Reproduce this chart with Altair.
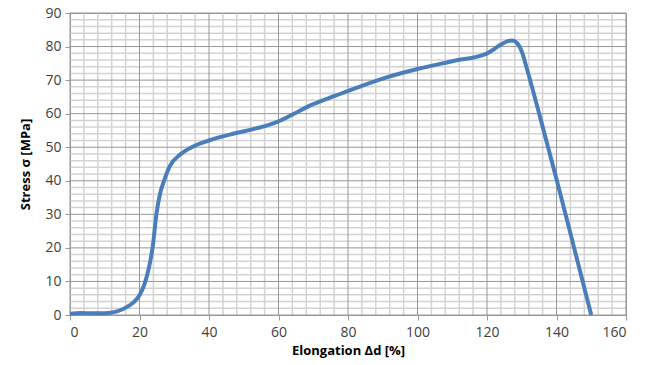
import altair as alt
import pandas as pd

elong = [0, 3, 6, 9, 11.5, 13.5, 15.3, 17, 18.5, 19.7, 20.8, 21.8, 22.8, 23.8, 24.9, 26, 27.1, 28.8,
         31.7, 35, 40, 46.9, 52.7, 57, 60, 64.3, 69, 74.8, 80.1, 91.1, 100, 110.3, 119.9,
         122, 124, 126, 127.3, 128.5, 130, 131.4, 135.3, 140.1, 145, 150]
stress = [0.3, 0.6, 0.5, 0.5, 0.7, 1.1, 1.8, 2.8, 4.0, 5.4, 7.5, 10.4, 14.5, 20.3, 30.3, 36.5, 40.1, 44.5,
          47.8, 50, 52, 54, 55.4, 56.6, 57.7, 59.9, 62.4, 64.8, 66.8, 70.8, 73.3, 75.7, 77.9,
          79.2, 80.6, 81.6, 81.8, 81.2, 78.5, 73.7, 58.9, 40.1, 20.3, 0]

x_minor = [v for v in range(0, 161, 4) if v % 20 != 0]
x_major = list(range(0, 161, 20))
y_minor = [v for v in range(0, 91, 2) if v % 10 != 0]
y_major = list(range(0, 91, 10))

df = pd.DataFrame({"x": elong, "y": stress})
xs = alt.Scale(domain=[0, 160], nice=False)
ys = alt.Scale(domain=[0, 90], nice=False)

font = "Open Sans"
x_title = "Elongation Δd [%]"
y_title = "Stress σ [MPa]"

x_axis = alt.Axis(values=x_major, grid=False, domainColor="#9a9a9a", tickColor="#9a9a9a",
                  tickSize=5, labelFontSize=14, labelColor="#404040", labelFont=font,
                  labelPadding=5, titleFont=font, titleFontSize=13, titleFontWeight="bold",
                  titleColor="#000000", titlePadding=5)
y_axis = alt.Axis(values=y_major, grid=False, domainColor="#9a9a9a", tickColor="#9a9a9a",
                  tickSize=5, labelFontSize=14, labelColor="#404040", labelFont=font,
                  labelPadding=4, titleFont=font, titleFontSize=13, titleFontWeight="bold",
                  titleColor="#000000", titlePadding=12)

xgrid_minor = alt.Chart(pd.DataFrame({"v": x_minor})).mark_rule(color="#d3d3d3", strokeWidth=1.5).encode(
    x=alt.X("v:Q", scale=xs, axis=x_axis, title=x_title))
ygrid_minor = alt.Chart(pd.DataFrame({"v": y_minor})).mark_rule(color="#d3d3d3", strokeWidth=1.5).encode(
    y=alt.Y("v:Q", scale=ys, axis=y_axis, title=y_title))
xgrid_major = alt.Chart(pd.DataFrame({"v": x_major})).mark_rule(color="#969696", strokeWidth=1).encode(
    x=alt.X("v:Q", scale=xs, axis=x_axis, title=x_title))
ygrid_major = alt.Chart(pd.DataFrame({"v": y_major})).mark_rule(color="#969696", strokeWidth=1).encode(
    y=alt.Y("v:Q", scale=ys, axis=y_axis, title=y_title))

line = alt.Chart(df).mark_line(color="#4a7ebb", strokeWidth=4, interpolate="monotone").encode(
    x=alt.X("x:Q", scale=xs, title=x_title, axis=x_axis),
    y=alt.Y("y:Q", scale=ys, title=y_title, axis=y_axis),
)

chart = alt.layer(xgrid_minor, ygrid_minor, xgrid_major, ygrid_major, line).properties(
    width=556, height=302,
    autosize=alt.AutoSizeParams(type="none"),
    padding={"left": 62, "top": 5, "right": 19, "bottom": 50},
).configure_view(stroke="#969696", strokeWidth=1)

chart.save("out.html", embed_options={"renderer": "svg", "actions": False})
